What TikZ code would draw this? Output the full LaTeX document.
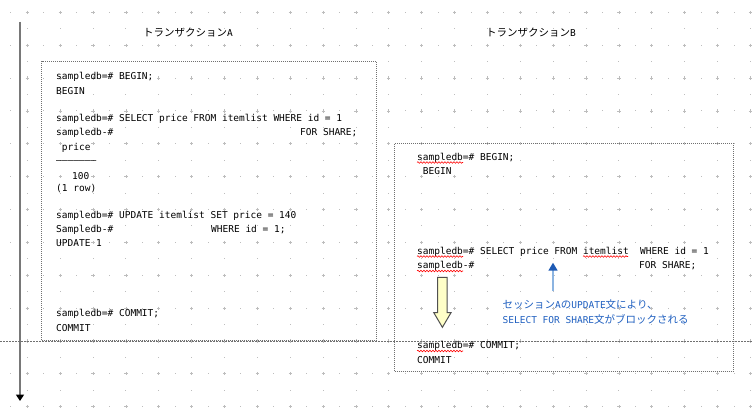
\documentclass[tikz,border=0pt]{standalone}
\usepackage{fontspec}
\setmainfont{DejaVu Sans Mono}
\newfontfamily\jpfont{Noto Sans CJK JP}
\newfontfamily\mofont{DejaVu Sans Mono}
\usetikzlibrary{arrows.meta,decorations.pathmorphing}
\definecolor{gridcol}{HTML}{BDBDBD}
\definecolor{boxcol}{HTML}{707070}
\definecolor{linecol}{HTML}{787878}
\definecolor{bluetxt}{RGB}{32,96,192}
\definecolor{bluehead}{RGB}{30,90,180}
\definecolor{blueshaft}{RGB}{140,180,225}
\definecolor{yel}{HTML}{FFFFC8}
\definecolor{yelline}{HTML}{505050}
\newcommand\JP[1]{{\jpfont\fontsize{10.5pt}{12pt}\selectfont #1}}
\tikzset{
  code/.style={font=\mofont\fontsize{9.5pt}{11pt}\selectfont, inner sep=0pt, anchor=base west, text=black},
  title/.style={font=\mofont\fontsize{9.5pt}{11pt}\selectfont, inner sep=0pt, anchor=west, text=black},
  note/.style={font=\mofont\fontsize{9.5pt}{11pt}\selectfont, inner sep=0pt, anchor=west, text=bluetxt},
  dotbox/.style={draw=boxcol, line width=1pt, dash pattern=on 1pt off 1pt, inner sep=0pt, anchor=north west},
  hline/.style={draw=boxcol, line width=1pt, dash pattern=on 2pt off 1pt},
  wavy/.style={draw=red, line width=0.6pt, decorate, decoration={snake, segment length=3pt, amplitude=0.8pt}},
  timeline/.style={line width=2pt, draw=linecol, -{Triangle[length=6.5pt,width=8pt,color=black]}},
  bluearrow/.style={line width=1.5pt, draw=blueshaft, -{Triangle[length=8pt,width=9pt,color=bluehead]}},
  blockarrow/.style={fill=yel, draw=yelline, line width=1pt, line join=miter},
}
\begin{document}
\begin{tikzpicture}[x=1pt,y=-1pt]
\useasboundingbox (0,0) rectangle (752,420);
\fill[white] (0,0) rectangle (752,420);
% background grid
\foreach \i in {0,...,22}{\foreach \j in {0,...,12}{
  \pgfmathsetmacro\gx{27.3+32.87*\i}
  \pgfmathsetmacro\gy{12.3+32.87*\j}
  \draw[gridcol, line width=0.8pt] (\gx-1.6,\gy) -- (\gx+1.6,\gy) (\gx,\gy-1.6) -- (\gx,\gy+1.6);
  \fill[gridcol] (\gx-16.93,\gy-0.5) rectangle ++(1,1);
  \fill[gridcol] (\gx-0.5,\gy+15.93) rectangle ++(1,1);
}}
% timeline
\coordinate (t0) at (20,22);
\coordinate (t1) at (20,401);
\draw[timeline] (t0) -- (t1);
% titles
\node[title] (titleA) at (143,33) {\JP{トランザクション}A};
\node[title] (titleB) at (486,32.5) {\JP{トランザクション}B};
% boxes
\node[dotbox, minimum width=335pt, minimum height=278.5pt] (boxA) at (41,61) {};
\node[dotbox, minimum width=338.7pt, minimum height=228pt] (boxB) at (394,142.7) {};
% horizontal line
\coordinate (h0) at (0,341);
\coordinate (h1) at (752,341);
\draw[hline] (h0) -- (h1);
% transaction A text
\node[code] (a1) at (56,80) {sampledb=\# BEGIN;};
\node[code] (a2) at (56,95) {BEGIN};
\node[code] (a3) at (56,121.5) {sampledb=\# SELECT price FROM itemlist WHERE id = 1};
\node[code] (a4) at (56,135.5) {sampledb-\#};
\node[code] (a4b) at (300,135.5) {FOR SHARE;};
\node[code] (a5) at (61.7,150.5) {price};
\node[code] (a6) at (56,163) {———————};
\node[code] (a7) at (72,179.5) {100};
\node[code] (a8) at (56,191.5) {(1 row)};
\node[code] (a9) at (56,218.5) {sampledb=\# UPDATE itemlist SET price = 140};
\node[code] (a10) at (56,232.5) {Sampledb-\#};
\node[code] (a10b) at (211,232.5) {WHERE id = 1;};
\node[code] (a11) at (56,246.5) {UPDATE 1};
\node[code] (a12) at (56,316.5) {sampledb=\# COMMIT;};
\node[code] (a13) at (56,331.5) {COMMIT};
% transaction B text
\node[code] (b1) at (417,160) {sampledb=\# BEGIN;};
\node[code] (b2) at (422.7,174) {BEGIN};
\node[code] (b3) at (417,254) {sampledb=\# SELECT price FROM itemlist~~WHERE id = 1};
\node[code] (b4) at (417,268.5) {sampledb-\#};
\node[code] (b4b) at (639,268.5) {FOR SHARE;};
\node[code] (b5) at (417,348.5) {sampledb=\# COMMIT;};
\node[code] (b6) at (417,363.5) {COMMIT};
% spell-check underlines
\draw[wavy] (417,162.5) -- (463,162.5);
\draw[wavy] (417,256.5) -- (463,256.5);
\draw[wavy] (583,256.5) -- (628,256.5);
\draw[wavy] (417,271) -- (463,271);
\draw[wavy] (417,351) -- (463,351);
% blocked arrow
\draw[blockarrow] (437.7,277.3) -- (447.2,277.3) -- (447.2,312.7) -- (451,312.7) -- (442.4,327.3) -- (433.8,312.7) -- (437.7,312.7) -- cycle;
% note
\coordinate (n0) at (553,291);
\coordinate (n1) at (553,262.7);
\draw[bluearrow] (n0) -- (n1);
\node[note] (note1) at (502.5,304.5) {\JP{セッション}A\JP{の}UPDATE\JP{文により、}};
\node[note] (note2) at (502.5,319) {SELECT FOR SHARE\JP{文がブロックされる}};
\end{tikzpicture}
\end{document}
